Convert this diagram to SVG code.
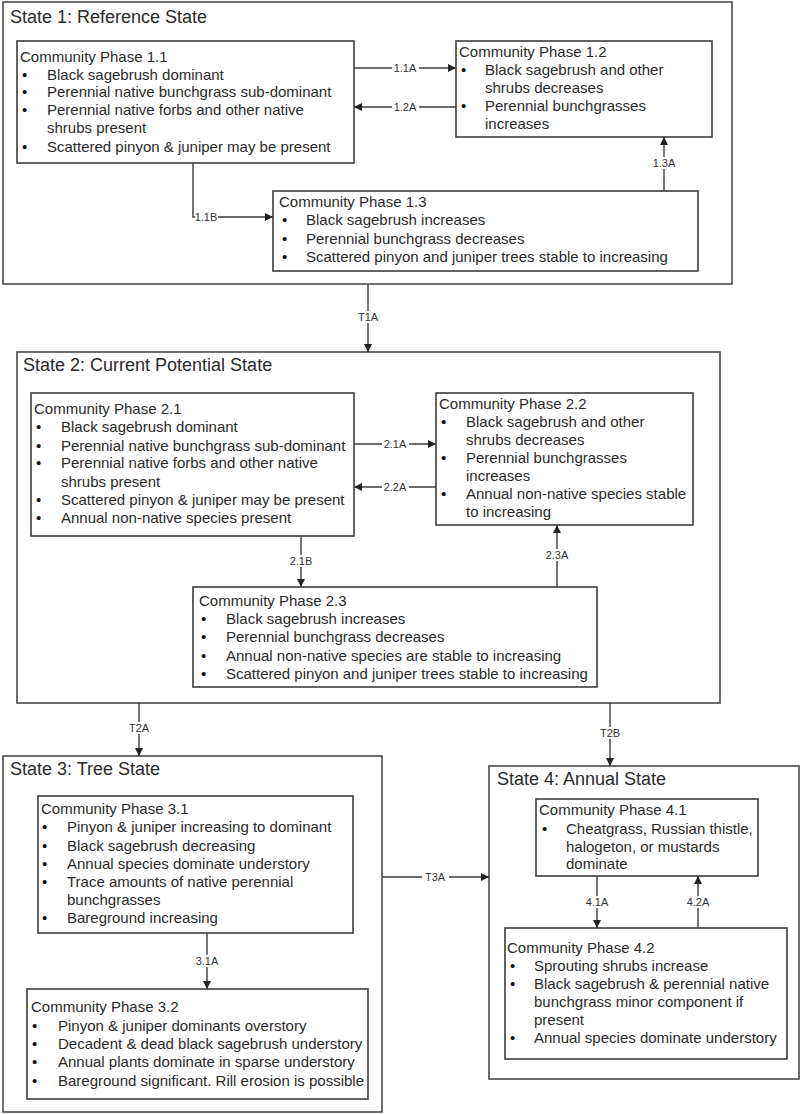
<svg xmlns="http://www.w3.org/2000/svg" width="800" height="1114" viewBox="0 0 800 1114">
<defs>
<style>
.st{fill:#fff;stroke:#4a4a4a;stroke-width:1.6}
.ph{fill:#fff;stroke:#3c3c3c;stroke-width:1.6}
.stt{font-family:"Liberation Sans",Arial,sans-serif;font-size:18px;fill:#2a2a2a}
.t{font-family:"Liberation Sans",Arial,sans-serif;font-size:15px;fill:#2a2a2a}
.b{font-family:"Liberation Sans",Arial,sans-serif;font-size:15px;fill:#111}
.cl{fill:none;stroke:#3c3c3c;stroke-width:1.4}
.lb{font-family:"Liberation Sans",Arial,sans-serif;font-size:11px;fill:#333;text-anchor:middle}
.lbg{fill:#fff}
</style>
<marker id="ah" viewBox="0 0 10 10" refX="10" refY="5" markerWidth="8" markerHeight="8" markerUnits="userSpaceOnUse" orient="auto">
<path d="M0,0 L10,5 L0,10 z" fill="#222"/>
</marker>
</defs>
<rect width="800" height="1114" fill="#fff"/>

<!-- States -->
<g id="state1">
<rect class="st" x="3" y="2" width="729" height="282"/>
<text class="stt" x="10" y="23">State 1: Reference State</text>
</g>
<g id="state2">
<rect class="st" x="17" y="352" width="703" height="351"/>
<text class="stt" x="23" y="371">State 2: Current Potential State</text>
</g>
<g id="state3">
<rect class="st" x="3" y="756" width="379" height="356"/>
<text class="stt" x="10" y="775">State 3: Tree State</text>
</g>
<g id="state4">
<rect class="st" x="489" y="766" width="310" height="313"/>
<text class="stt" x="497" y="785">State 4: Annual State</text>
</g>

<!-- Connectors -->
<g id="connectors">
<line class="cl" x1="354" y1="68" x2="456" y2="68" marker-end="url(#ah)"/>
<line class="cl" x1="456" y1="107" x2="354" y2="107" marker-end="url(#ah)"/>
<polyline class="cl" points="193,163 193,217 273,217" marker-end="url(#ah)"/>
<line class="cl" x1="664" y1="191" x2="664" y2="137" marker-end="url(#ah)"/>
<line class="cl" x1="368" y1="284" x2="368" y2="352" marker-end="url(#ah)"/>
<line class="cl" x1="354" y1="444" x2="436" y2="444" marker-end="url(#ah)"/>
<line class="cl" x1="436" y1="487" x2="354" y2="487" marker-end="url(#ah)"/>
<line class="cl" x1="301" y1="536" x2="301" y2="587" marker-end="url(#ah)"/>
<line class="cl" x1="557" y1="587" x2="557" y2="525" marker-end="url(#ah)"/>
<line class="cl" x1="139" y1="703" x2="139" y2="756" marker-end="url(#ah)"/>
<line class="cl" x1="610" y1="703" x2="610" y2="766" marker-end="url(#ah)"/>
<line class="cl" x1="382" y1="877" x2="489" y2="877" marker-end="url(#ah)"/>
<line class="cl" x1="207" y1="933" x2="207" y2="989" marker-end="url(#ah)"/>
<line class="cl" x1="597" y1="876" x2="597" y2="928" marker-end="url(#ah)"/>
<line class="cl" x1="698" y1="928" x2="698" y2="876" marker-end="url(#ah)"/>

<rect class="lbg" x="392" y="62" width="27" height="12"/><text class="lb" x="405" y="72">1.1A</text>
<rect class="lbg" x="392" y="101" width="27" height="12"/><text class="lb" x="405" y="111">1.2A</text>
<rect class="lbg" x="195" y="211" width="23" height="12"/><text class="lb" x="206" y="221">1.1B</text>
<rect class="lbg" x="651" y="157" width="27" height="12"/><text class="lb" x="664" y="167">1.3A</text>
<rect class="lbg" x="355" y="311" width="27" height="12"/><text class="lb" x="368" y="321">T1A</text>
<rect class="lbg" x="382" y="438" width="27" height="12"/><text class="lb" x="395" y="448">2.1A</text>
<rect class="lbg" x="382" y="481" width="27" height="12"/><text class="lb" x="395" y="491">2.2A</text>
<rect class="lbg" x="288" y="555" width="27" height="12"/><text class="lb" x="301" y="565">2.1B</text>
<rect class="lbg" x="544" y="549" width="27" height="12"/><text class="lb" x="557" y="559">2.3A</text>
<rect class="lbg" x="126" y="722" width="27" height="12"/><text class="lb" x="139" y="732">T2A</text>
<rect class="lbg" x="597" y="727" width="27" height="12"/><text class="lb" x="610" y="737">T2B</text>
<rect class="lbg" x="422" y="871" width="27" height="12"/><text class="lb" x="435" y="881">T3A</text>
<rect class="lbg" x="194" y="955" width="27" height="12"/><text class="lb" x="207" y="965">3.1A</text>
<rect class="lbg" x="584" y="896" width="27" height="12"/><text class="lb" x="597" y="906">4.1A</text>
<rect class="lbg" x="685" y="896" width="27" height="12"/><text class="lb" x="698" y="906">4.2A</text>
</g>

<!-- Phases -->
<g id="phase11">
<rect class="ph" x="17" y="41" width="337" height="122"/>
<text class="t" x="20" y="62">Community Phase 1.1</text>
<text class="b" x="22" y="80">•</text><text class="t" x="47" y="80">Black sagebrush dominant</text>
<text class="b" x="22" y="97">•</text><text class="t" x="47" y="97">Perennial native bunchgrass sub-dominant</text>
<text class="b" x="22" y="115">•</text><text class="t" x="47" y="115">Perennial native forbs and other native</text>
<text class="t" x="47" y="133">shrubs present</text>
<text class="b" x="22" y="152">•</text><text class="t" x="47" y="152">Scattered pinyon &amp; juniper may be present</text>
</g>
<g id="phase12">
<rect class="ph" x="456" y="41" width="256" height="96"/>
<text class="t" x="459" y="57">Community Phase 1.2</text>
<text class="b" x="461" y="75">•</text><text class="t" x="485" y="75">Black sagebrush and other</text>
<text class="t" x="485" y="93">shrubs decreases</text>
<text class="b" x="461" y="111">•</text><text class="t" x="485" y="111">Perennial bunchgrasses</text>
<text class="t" x="485" y="129">increases</text>
</g>
<g id="phase13">
<rect class="ph" x="273" y="191" width="425" height="80"/>
<text class="t" x="279" y="207">Community Phase 1.3</text>
<text class="b" x="282" y="225">•</text><text class="t" x="306" y="225">Black sagebrush increases</text>
<text class="b" x="282" y="244">•</text><text class="t" x="306" y="244">Perennial bunchgrass decreases</text>
<text class="b" x="282" y="262">•</text><text class="t" x="306" y="262">Scattered pinyon and juniper trees stable to increasing</text>
</g>

<g id="phase21">
<rect class="ph" x="31" y="393" width="323" height="143"/>
<text class="t" x="34" y="414">Community Phase 2.1</text>
<text class="b" x="36" y="432">•</text><text class="t" x="61" y="432">Black sagebrush dominant</text>
<text class="b" x="36" y="451">•</text><text class="t" x="61" y="451">Perennial native bunchgrass sub-dominant</text>
<text class="b" x="36" y="468">•</text><text class="t" x="61" y="468">Perennial native forbs and other native</text>
<text class="t" x="61" y="487">shrubs present</text>
<text class="b" x="36" y="505">•</text><text class="t" x="61" y="505">Scattered pinyon &amp; juniper may be present</text>
<text class="b" x="36" y="523">•</text><text class="t" x="61" y="523">Annual non-native species present</text>
</g>
<g id="phase22">
<rect class="ph" x="436" y="393" width="257" height="132"/>
<text class="t" x="439" y="409">Community Phase 2.2</text>
<text class="b" x="441" y="427">•</text><text class="t" x="466" y="427">Black sagebrush and other</text>
<text class="t" x="466" y="445">shrubs decreases</text>
<text class="b" x="441" y="463">•</text><text class="t" x="466" y="463">Perennial bunchgrasses</text>
<text class="t" x="466" y="481">increases</text>
<text class="b" x="441" y="499">•</text><text class="t" x="466" y="499">Annual non-native species stable</text>
<text class="t" x="466" y="517">to increasing</text>
</g>
<g id="phase23">
<rect class="ph" x="193" y="587" width="404" height="100"/>
<text class="t" x="199" y="606">Community Phase 2.3</text>
<text class="b" x="201" y="624">•</text><text class="t" x="226" y="624">Black sagebrush increases</text>
<text class="b" x="201" y="642">•</text><text class="t" x="226" y="642">Perennial bunchgrass decreases</text>
<text class="b" x="201" y="661">•</text><text class="t" x="226" y="661">Annual non-native species are stable to increasing</text>
<text class="b" x="201" y="679">•</text><text class="t" x="226" y="679">Scattered pinyon and juniper trees stable to increasing</text>
</g>

<g id="phase31">
<rect class="ph" x="38" y="796" width="315" height="137"/>
<text class="t" x="41" y="814">Community Phase 3.1</text>
<text class="b" x="42" y="832">•</text><text class="t" x="67" y="832">Pinyon &amp; juniper increasing to dominant</text>
<text class="b" x="42" y="851">•</text><text class="t" x="67" y="851">Black sagebrush decreasing</text>
<text class="b" x="42" y="869">•</text><text class="t" x="67" y="869">Annual species dominate understory</text>
<text class="b" x="42" y="887">•</text><text class="t" x="67" y="887">Trace amounts of native perennial</text>
<text class="t" x="67" y="905">bunchgrasses</text>
<text class="b" x="42" y="923">•</text><text class="t" x="67" y="923">Bareground increasing</text>
</g>
<g id="phase32">
<rect class="ph" x="27" y="989" width="341" height="110"/>
<text class="t" x="31" y="1012">Community Phase 3.2</text>
<text class="b" x="32" y="1031">•</text><text class="t" x="58" y="1031">Pinyon &amp; juniper dominants overstory</text>
<text class="b" x="32" y="1049">•</text><text class="t" x="58" y="1049">Decadent &amp; dead black sagebrush understory</text>
<text class="b" x="32" y="1067">•</text><text class="t" x="58" y="1067">Annual plants dominate in sparse understory</text>
<text class="b" x="32" y="1086">•</text><text class="t" x="58" y="1086">Bareground significant. Rill erosion is possible</text>
</g>

<g id="phase41">
<rect class="ph" x="536" y="799" width="222" height="77"/>
<text class="t" x="539" y="815">Community Phase 4.1</text>
<text class="b" x="542" y="834">•</text><text class="t" x="566" y="834">Cheatgrass, Russian thistle,</text>
<text class="t" x="566" y="852">halogeton, or mustards</text>
<text class="t" x="566" y="869">dominate</text>
</g>
<g id="phase42">
<rect class="ph" x="505" y="928" width="282" height="131"/>
<text class="t" x="507" y="953">Community Phase 4.2</text>
<text class="b" x="510" y="971">•</text><text class="t" x="534" y="971">Sprouting shrubs increase</text>
<text class="b" x="510" y="989">•</text><text class="t" x="534" y="989">Black sagebrush &amp; perennial native</text>
<text class="t" x="534" y="1007">bunchgrass minor component if</text>
<text class="t" x="534" y="1025">present</text>
<text class="b" x="510" y="1043">•</text><text class="t" x="534" y="1043">Annual species dominate understory</text>
</g>
</svg>
